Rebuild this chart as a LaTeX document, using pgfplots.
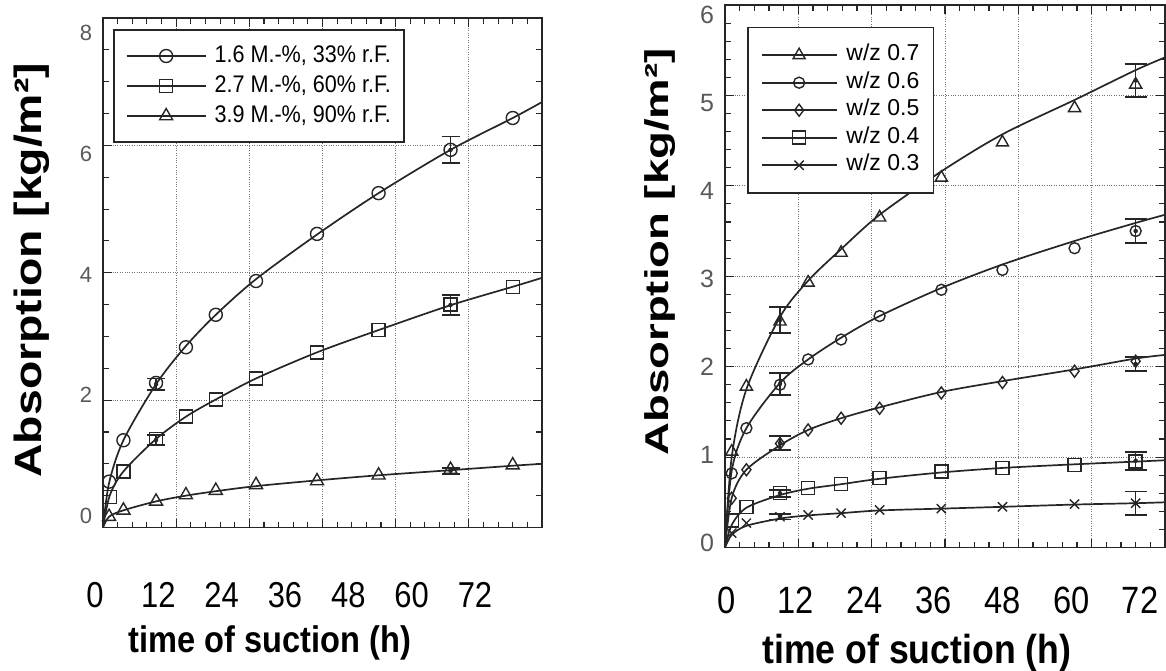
\documentclass[border=0pt]{standalone}
\usepackage{pgfplots}
\pgfplotsset{compat=1.18}
\usepackage{fontspec}
\setmainfont{Liberation Sans}
\newfontfamily\narrowfont[FakeStretch=0.86]{Liberation Sans}
\newfontfamily\titlefont[FakeStretch=0.88]{Liberation Sans}
\newfontfamily\wideL[FakeStretch=1.22]{Liberation Sans}
\newfontfamily\wideR[FakeStretch=1.38]{Liberation Sans}
\newfontfamily\legfont[FakeStretch=0.9]{Liberation Sans}

\pgfplotsset{
  mainax/.style={scale only axis, anchor=south west, xmin=0, xmax=72,
    xtick={0,12,...,72}, minor x tick num=4,
    xticklabel={\hbox{}}, yticklabel={\hbox{}},
    grid=major, major grid style={dotted, black!55, line width=0.9pt},
    axis line style={black!85, line width=1.7pt},
    tick style={black!85, line width=1.1pt},
    major tick length=9pt, minor tick length=6pt, tick align=inside,
    legend cell align=left},
  labax/.style={scale only axis, anchor=south west, xmin=0, xmax=72,
    xtick={0,12,...,72}, axis line style={draw=none}, tick style={draw=none},
    /pgf/number format/assume math mode=true},
  curve/.style={black!85, line width=1.7pt, mark options={solid, line width=1.4pt}},
  mk/.style={only marks, black!85, mark options={solid, line width=1.4pt}},
  eb/.style={forget plot, only marks, mark=none, black!85,
    error bars/.cd, y dir=both, y explicit,
    error bar style={draw=black!85, line width=1.4pt, solid},
    error mark options={rotate=90, draw=black!85, line width=1.8pt, mark size=#1}},
}

\begin{document}
\begin{tikzpicture}
\useasboundingbox (0,0) rectangle (1166pt,670pt);

% ---------------- left chart ----------------
\begin{axis}[mainax, at={(103pt,142.5pt)}, width=439pt, height=509.5pt,
  ymin=0, ymax=8, ytick={0,2,...,8}, minor y tick num=3,
  xlabel={time of suction (h)},
  xlabel style={at={(axis description cs:0.380,-0.2267)}, anchor=center,
    font=\titlefont\bfseries\fontsize{37}{40}\selectfont},
  ylabel={Absorption [kg/m²]},
  ylabel style={at={(axis description cs:-0.162,0.505)}, anchor=center,
    font=\wideL\bfseries\fontsize{38}{40}\selectfont},
  legend image code/.code={\draw[mark repeat=2, mark phase=2, #1, line width=1.7pt]
    plot coordinates {(0pt,0pt) (39.5pt,0pt) (79pt,0pt)};},
  legend style={at={(axis description cs:0.0228,0.978)}, anchor=north west,
    draw=black!85, line width=1.6pt, fill=white,
    font=\legfont\fontsize{24}{28}\selectfont,
    inner xsep=12pt, inner ysep=14pt, row sep=6pt, column sep=7pt,
    nodes={inner sep=1pt, text height=17pt, text depth=5pt}},
]
\addlegendimage{curve, mark=o, mark size=6.5pt}
\addlegendentry{1.6 M.-\%, 33\% r.F.}
\addlegendimage{curve, mark=square, mark size=6.5pt}
\addlegendentry{2.7 M.-\%, 60\% r.F.}
\addlegendimage{curve, mark=triangle, mark size=7.5pt}
\addlegendentry{3.9 M.-\%, 90\% r.F.}

% fitted curves
\addplot[curve, smooth, forget plot] coordinates {(0,0) (1.0,0.70) (3.35,1.37) (8.7,2.25) (13.6,2.85) (18.5,3.34) (25.1,3.90) (35.1,4.60) (45.2,5.25) (57.0,5.93) (67.2,6.43) (72,6.68)};
\addplot[curve, smooth, forget plot] coordinates {(0,0) (1.1,0.50) (3.35,0.88) (8.7,1.39) (13.6,1.74) (18.5,2.01) (25.1,2.34) (35.1,2.75) (45.2,3.10) (57.0,3.49) (67.2,3.78) (72,3.92)};
\addplot[curve, smooth, forget plot] coordinates {(0,0) (1.0,0.17) (3.35,0.27) (8.7,0.41) (13.6,0.50) (18.5,0.57) (25.1,0.65) (35.1,0.74) (45.2,0.82) (57.0,0.90) (67.2,0.97) (72,1.00)};
% measured points
\addplot[mk, mark=o, mark size=6.5pt, forget plot] coordinates {(1.0,0.72) (3.35,1.37) (8.7,2.27) (13.6,2.83) (18.5,3.34) (25.1,3.87) (35.1,4.61) (45.2,5.25) (57.0,5.93) (67.2,6.43)};
\addplot[mk, mark=square, mark size=6.5pt, forget plot] coordinates {(1.1,0.48) (3.35,0.88) (8.7,1.39) (13.6,1.74) (18.5,2.01) (25.1,2.34) (35.1,2.75) (45.2,3.10) (57.0,3.50) (67.2,3.78)};
\addplot[mk, mark=triangle, mark size=7.5pt, forget plot] coordinates {(1.0,0.17) (3.35,0.27) (8.7,0.41) (13.6,0.51) (18.5,0.58) (25.1,0.67) (35.1,0.73) (45.2,0.82) (57.0,0.91) (67.2,0.98)};
% error bars
\addplot[eb=9pt] coordinates {(8.7,2.25) +- (0,0.09) (57.0,5.93) +- (0,0.21) (8.7,1.375) +- (0,0.075) (57.0,3.495) +- (0,0.155) (57.0,0.89) +- (0,0.05)};
\end{axis}

% tick labels of the left chart
\begin{axis}[labax, at={(95pt,154pt)}, width=380pt, height=483pt,
  ymin=0, ymax=8, ytick={0,2,...,8},
  xticklabel style={anchor=center, yshift=-79pt, text=black,
    font=\narrowfont\fontsize{36}{40}\selectfont},
  yticklabel style={anchor=center, xshift=-9pt, text=black!65,
    font=\fontsize{22}{26}\selectfont},
]
\end{axis}

% ---------------- right chart ----------------
\begin{axis}[mainax, at={(725pt,122.5pt)}, width=440pt, height=542.5pt,
  ymin=0, ymax=6, ytick={0,1,...,6}, minor y tick num=4,
  xlabel={time of suction (h)},
  xlabel style={at={(axis description cs:0.436,-0.1945)}, anchor=center,
    font=\titlefont\bfseries\fontsize{40.5}{44}\selectfont},
  ylabel={Absorption [kg/m²]},
  ylabel style={at={(axis description cs:-0.148,0.545)}, anchor=center,
    font=\wideR\bfseries\fontsize{33}{36}\selectfont},
  legend image code/.code={\draw[mark repeat=2, mark phase=2, #1, line width=1.7pt]
    plot coordinates {(0pt,0pt) (37.5pt,0pt) (75pt,0pt)};},
  legend style={at={(axis description cs:0.05,0.96)}, anchor=north west,
    draw=black!85, line width=1.5pt, fill=white,
    font=\fontsize{23}{27}\selectfont,
    inner xsep=13pt, inner ysep=16pt, row sep=4pt, column sep=8pt,
    nodes={inner sep=1pt, text height=16.5pt, text depth=5pt}},
]
\addlegendimage{curve, mark=triangle, mark size=7pt}
\addlegendentry{w/z 0.7}
\addlegendimage{curve, mark=o, mark size=5.5pt}
\addlegendentry{w/z 0.6}
\addlegendimage{curve, mark=diamond, mark size=6pt}
\addlegendentry{w/z 0.5}
\addlegendimage{curve, mark=square, mark size=6.5pt}
\addlegendentry{w/z 0.4}
\addlegendimage{curve, mark=x, mark size=6.5pt}
\addlegendentry{w/z 0.3}

% fitted curves
\addplot[curve, smooth, forget plot] coordinates {(0,0) (1.1,1.00) (3.5,1.75) (9.0,2.55) (13.6,2.95) (19.0,3.30) (25.3,3.68) (35.4,4.16) (45.4,4.57) (57.2,4.95) (67.2,5.28) (72,5.42)};
\addplot[curve, smooth, forget plot] coordinates {(0,0) (1.1,0.85) (3.5,1.32) (9.0,1.82) (13.6,2.08) (19.0,2.32) (25.3,2.56) (35.4,2.87) (45.4,3.13) (57.2,3.39) (67.2,3.59) (72,3.68)};
\addplot[curve, smooth, forget plot] coordinates {(0,0) (1.1,0.55) (3.5,0.86) (9.0,1.13) (13.6,1.30) (19.0,1.43) (25.3,1.55) (35.4,1.72) (45.4,1.84) (57.2,1.97) (67.2,2.09) (72,2.13)};
\addplot[curve, smooth, forget plot] coordinates {(0,0) (1.1,0.25) (3.5,0.44) (9.0,0.58) (13.6,0.65) (19.0,0.70) (25.3,0.76) (35.4,0.83) (45.4,0.88) (57.2,0.92) (67.2,0.95) (72,0.965)};
\addplot[curve, smooth, forget plot] coordinates {(0,0) (1.1,0.14) (3.5,0.24) (9.0,0.32) (13.6,0.355) (19.0,0.38) (25.3,0.41) (35.4,0.43) (45.4,0.45) (57.2,0.475) (67.2,0.49) (72,0.50)};
% measured points
\addplot[mk, mark=triangle, mark size=7pt, forget plot] coordinates {(1.1,1.06) (3.5,1.78) (9.0,2.50) (13.6,2.93) (19.0,3.26) (25.3,3.65) (35.4,4.09) (45.4,4.48) (57.2,4.86) (67.2,5.12)};
\addplot[mk, mark=o, mark size=5.5pt, forget plot] coordinates {(1.1,0.82) (3.5,1.32) (9.0,1.80) (13.6,2.08) (19.0,2.30) (25.3,2.56) (35.4,2.85) (45.4,3.07) (57.2,3.31) (67.2,3.50)};
\addplot[mk, mark=diamond, mark size=6pt, forget plot] coordinates {(1.1,0.545) (3.5,0.86) (9.0,1.15) (13.6,1.30) (19.0,1.43) (25.3,1.54) (35.4,1.71) (45.4,1.825) (57.2,1.95) (67.2,2.06)};
\addplot[mk, mark=square, mark size=6.5pt, forget plot] coordinates {(1.1,0.30) (3.5,0.45) (9.0,0.60) (13.6,0.655) (19.0,0.70) (25.3,0.77) (35.4,0.84) (45.4,0.88) (57.2,0.91) (67.2,0.95)};
\addplot[mk, mark=x, mark size=6.5pt, forget plot] coordinates {(1.1,0.16) (3.5,0.27) (9.0,0.34) (13.6,0.36) (19.0,0.38) (25.3,0.415) (35.4,0.43) (45.4,0.45) (57.2,0.48) (67.2,0.49)};
% error bars
\addplot[eb=11pt] coordinates {(9.0,2.515) +- (0,0.145) (67.2,5.165) +- (0,0.18) (9.0,1.81) +- (0,0.12) (67.2,3.50) +- (0,0.13) (9.0,1.155) +- (0,0.075) (67.2,2.03) +- (0,0.08) (9.0,0.60) +- (0,0.04) (67.2,0.96) +- (0,0.10) (9.0,0.34) +- (0,0.03) (67.2,0.49) +- (0,0.13)};
\end{axis}

% tick labels of the right chart
\begin{axis}[labax, at={(727pt,127pt)}, width=413pt, height=528pt,
  ymin=0, ymax=6, ytick={0,1,...,6},
  xticklabel style={anchor=center, yshift=-57pt, text=black,
    font=\narrowfont\fontsize{38}{42}\selectfont},
  yticklabel style={anchor=center, xshift=-20pt, text=black!65,
    font=\fontsize{25}{29}\selectfont},
]
\end{axis}
\end{tikzpicture}
\end{document}
